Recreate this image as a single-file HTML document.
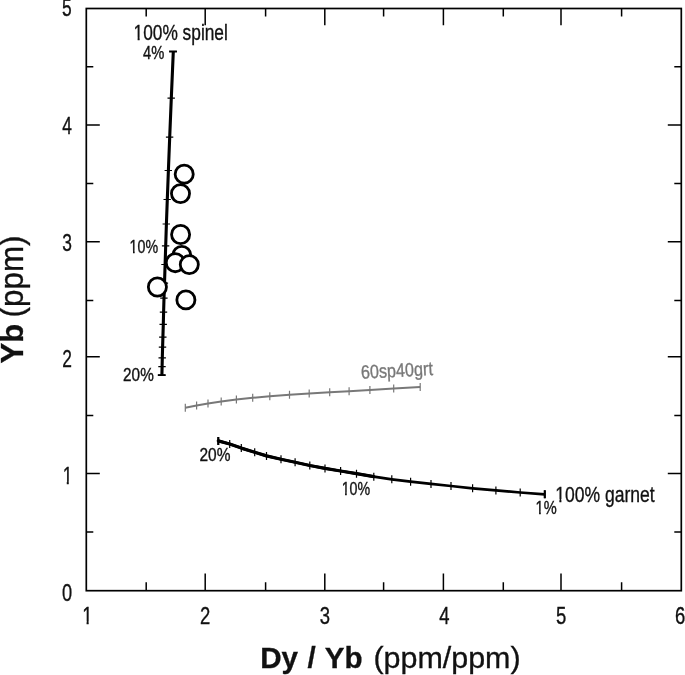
<!DOCTYPE html>
<html><head><meta charset="utf-8"><title>Dy/Yb vs Yb</title>
<style>html,body{margin:0;padding:0;background:#fff;}body{width:685px;height:675px;overflow:hidden;}svg{display:block;}text{font-family:"Liberation Sans",Arial,Helvetica,sans-serif;fill:#111;stroke:#111;stroke-width:0.35px;}text.h{stroke-width:0.3px;}</style>
</head><body>
<svg width="685" height="675" viewBox="0 0 685 675">
<rect x="0" y="0" width="685" height="675" fill="#fff"/>
<rect x="86.3" y="8.5" width="595.0" height="582.2" fill="none" stroke="#000" stroke-width="1.7"/>
<path d="M146.2 590.7v-8.4M146.2 8.5v8.0M205.2 590.7v-17.2M205.2 8.5v16.8M265.6 590.7v-8.4M265.6 8.5v8.0M324.8 590.7v-17.2M324.8 8.5v16.8M383.6 590.7v-8.4M383.6 8.5v8.0M443.4 590.7v-17.2M443.4 8.5v16.8M503.3 590.7v-8.4M503.3 8.5v8.0M561.0 590.7v-17.2M561.0 8.5v16.8M621.6 590.7v-8.4M621.6 8.5v8.0M86.3 532.0h7.0M681.3 532.0h-7.0M86.3 473.6h13.5M681.3 473.6h-13.5M86.3 415.4h7.0M681.3 415.4h-7.0M86.3 356.7h13.5M681.3 356.7h-13.5M86.3 300.5h7.0M681.3 300.5h-7.0M86.3 241.7h13.5M681.3 241.7h-13.5M86.3 183.6h7.0M681.3 183.6h-7.0M86.3 125.0h13.5M681.3 125.0h-13.5M86.3 66.7h7.0M681.3 66.7h-7.0" fill="none" stroke="#000" stroke-width="1.5"/>
<text transform="translate(72.1 601.2) scale(0.775 1)" font-size="23.5" text-anchor="end">0</text>
<clipPath id="c0"><path clip-rule="evenodd" d="M0 0H685V675H0ZM62.95 481.54H66.80V486.80H62.95ZM68.74 481.54H72.35V486.80H68.74Z"/></clipPath>
<g clip-path="url(#c0)"><text transform="translate(72.3 484.3) scale(0.74 1)" font-size="23.5" text-anchor="end">1</text></g>
<text transform="translate(71.9 367.4) scale(0.74 1)" font-size="23.5" text-anchor="end">2</text>
<text transform="translate(71.9 250.5) scale(0.74 1)" font-size="23.5" text-anchor="end">3</text>
<text transform="translate(71.9 133.6) scale(0.74 1)" font-size="23.5" text-anchor="end">4</text>
<text transform="translate(71.7 16.3) scale(0.74 1)" font-size="23.5" text-anchor="end">5</text>
<clipPath id="c1"><path clip-rule="evenodd" d="M0 0H685V675H0ZM82.57 621.57H86.61V626.80H82.57ZM88.64 621.57H92.44V626.80H88.64Z"/></clipPath>
<g clip-path="url(#c1)"><text transform="translate(87.3 624.3) scale(0.8 1)" font-size="23.1" text-anchor="middle">1</text></g>
<text transform="translate(205.2 623.9) scale(0.8 1)" font-size="23.1" text-anchor="middle">2</text>
<text transform="translate(325.0 623.9) scale(0.8 1)" font-size="23.1" text-anchor="middle">3</text>
<text transform="translate(444.3 623.9) scale(0.8 1)" font-size="23.1" text-anchor="middle">4</text>
<text transform="translate(561.2 623.9) scale(0.8 1)" font-size="23.1" text-anchor="middle">5</text>
<text transform="translate(680.1 623.9) scale(0.8 1)" font-size="23.1" text-anchor="middle">6</text>
<polyline points="173.3,51.5 171.3,98.2 169.7,137.2 168.4,170.5 167.3,199.5 166.4,224.0 165.7,245.8 165.1,264.5 164.5,283.2 164.0,298.1 163.6,312.2 163.3,324.3 162.9,337.1 162.6,347.1 162.3,357.9 162.1,366.6 161.9,375.1" fill="none" stroke="#000" stroke-width="3.1" stroke-linejoin="round"/>
<path d="M169.5 51.5h7.4M167.5 98.2h7.4M165.9 137.2h7.4M164.6 170.5h7.4M163.5 199.5h7.4M162.6 224.0h7.4M161.9 245.8h7.4M161.3 264.5h7.4M160.7 283.2h7.4M160.2 298.1h7.4M159.8 312.2h7.4M159.5 324.3h7.4M159.1 337.1h7.4M158.8 347.1h7.4M158.5 357.9h7.4M158.3 366.6h7.4M158.1 375.1h7.4" fill="none" stroke="#000" stroke-width="1.2"/>
<path d="M169.1 51.5h7.8M157.8 375.1h7.8" fill="none" stroke="#000" stroke-width="1.9"/>
<polyline points="185.3,407.7 196.6,405.6 208.0,403.5 221.2,401.6 236.4,399.5 252.7,397.8 269.8,396.3 289.5,394.7 309.2,393.5 329.7,392.3 349.1,391.3 369.9,390.1 393.7,388.6 420.2,387.0" fill="none" stroke="#787878" stroke-width="2" stroke-linejoin="round"/>
<path d="M185.3 403.7v8M196.6 401.6v8M208.0 399.5v8M221.2 397.6v8M236.4 395.5v8M252.7 393.8v8M269.8 392.3v8M289.5 390.7v8M309.2 389.5v8M329.7 388.3v8M349.1 387.3v8M369.9 386.1v8M393.7 384.6v8M420.2 383.0v8" fill="none" stroke="#787878" stroke-width="1.2"/>
<polyline points="218.3,440.9 229.7,444.0 241.3,448.1 254.7,452.2 266.5,455.9 281.0,459.2 295.1,462.3 309.8,465.5 325.0,468.4 340.6,471.0 356.5,473.7 373.8,476.7 391.8,479.3 410.6,481.7 431.0,483.9 451.0,486.0 472.6,488.3 495.9,490.4 520.2,492.5 544.8,494.3" fill="none" stroke="#000" stroke-width="2.7" stroke-linejoin="round"/>
<polyline points="218.3,440.9 229.7,444.0 241.3,448.1 254.7,452.2 266.5,455.9 281.0,459.2 295.1,462.3 309.8,465.5 325.0,468.4 340.6,471.0 356.5,473.7 373.8,476.7" fill="none" stroke="#000" stroke-width="3.2" stroke-linejoin="round" stroke-linecap="round"/>
<path d="M218.3 436.9v8M229.7 440.0v8M241.3 444.1v8M254.7 448.2v8M266.5 451.9v8M281.0 455.2v8M295.1 458.3v8M309.8 461.5v8M325.0 464.4v8M340.6 467.0v8M356.5 469.7v8M373.8 472.7v8M391.8 475.3v8M410.6 477.7v8M431.0 479.9v8M451.0 482.0v8M472.6 484.3v8M495.9 486.4v8M520.2 488.5v8M544.8 490.3v8" fill="none" stroke="#000" stroke-width="1.2"/>
<path d="M218.3 436.9v8M544.8 490.3v8" fill="none" stroke="#000" stroke-width="2.2"/>
<circle cx="181.8" cy="255.5" r="9.05" fill="#fff" stroke="#000" stroke-width="2.8"/>
<circle cx="180.5" cy="193.6" r="9.05" fill="#fff" stroke="#000" stroke-width="2.8"/>
<circle cx="184.2" cy="174.2" r="9.05" fill="#fff" stroke="#000" stroke-width="2.8"/>
<circle cx="180.6" cy="234.5" r="9.05" fill="#fff" stroke="#000" stroke-width="2.8"/>
<circle cx="175.3" cy="262.7" r="9.05" fill="#fff" stroke="#000" stroke-width="2.8"/>
<circle cx="189.3" cy="264.6" r="9.05" fill="#fff" stroke="#000" stroke-width="2.8"/>
<circle cx="157.4" cy="287.0" r="9.05" fill="#fff" stroke="#000" stroke-width="2.8"/>
<circle cx="185.9" cy="299.9" r="9.05" fill="#fff" stroke="#000" stroke-width="2.8"/>
<clipPath id="c2"><path clip-rule="evenodd" d="M0 0H685V675H0ZM133.82 37.70H137.66V42.90H133.82ZM139.59 37.70H143.19V42.90H139.59Z"/></clipPath>
<g clip-path="url(#c2)"><text transform="translate(133.5 40.4) scale(0.76 1)" font-size="22.8" text-anchor="start">100% spinel</text></g>
<text transform="translate(143.0 58.8) scale(0.84 1)" font-size="17.5" text-anchor="start">4%</text>
<clipPath id="c3"><path clip-rule="evenodd" d="M0 0H685V675H0ZM129.68 250.57H132.98V255.40H129.68ZM134.64 250.57H137.72V255.40H134.64Z"/></clipPath>
<g clip-path="url(#c3)"><text transform="translate(129.6 252.9) scale(0.8 1)" font-size="17.8" text-anchor="start">10%</text></g>
<text transform="translate(123.1 381.2) scale(0.875 1)" font-size="17.5" text-anchor="start">20%</text>
<text transform="translate(199.5 461.1) scale(0.86 1)" font-size="18" text-anchor="start">20%</text>
<clipPath id="c4"><path clip-rule="evenodd" d="M0 0H685V675H0ZM341.78 492.57H345.08V497.40H341.78ZM346.74 492.57H349.82V497.40H346.74Z"/></clipPath>
<g clip-path="url(#c4)"><text transform="translate(341.7 494.9) scale(0.8 1)" font-size="17.8" text-anchor="start">10%</text></g>
<clipPath id="c5"><path clip-rule="evenodd" d="M0 0H685V675H0ZM535.71 511.49H539.07V516.30H535.71ZM540.76 511.49H543.91V516.30H540.76Z"/></clipPath>
<g clip-path="url(#c5)"><text transform="translate(535.6 513.8) scale(0.83 1)" font-size="17.6" text-anchor="start">1%</text></g>
<clipPath id="c6"><path clip-rule="evenodd" d="M0 0H685V675H0ZM555.54 498.93H559.41V504.10H555.54ZM561.36 498.93H565.00V504.10H561.36Z"/></clipPath>
<g clip-path="url(#c6)"><text transform="translate(555.2 501.6) scale(0.787 1)" font-size="22.3" text-anchor="start">100% garnet</text></g>
<text transform="translate(361.2 378.8) rotate(-3) scale(0.845 1)" font-size="19.2" text-anchor="start" style="fill:#787878;stroke:#787878">60sp40grt</text>
<text x="260.2" y="667.6" font-size="29.6" font-weight="bold" class="h" style="word-spacing:1.3px">Dy / Yb</text>
<text transform="translate(373.4 667.6) scale(1.058 1)" font-size="28.8" class="h">(ppm/ppm)</text>
<g transform="translate(23.2 363.4) rotate(-90) scale(1 1.04)"><text x="0" y="0" font-size="31" font-weight="bold" class="h">Yb</text><text x="46" y="0" font-size="31.4" class="h">(ppm)</text></g>
</svg>
</body></html>
